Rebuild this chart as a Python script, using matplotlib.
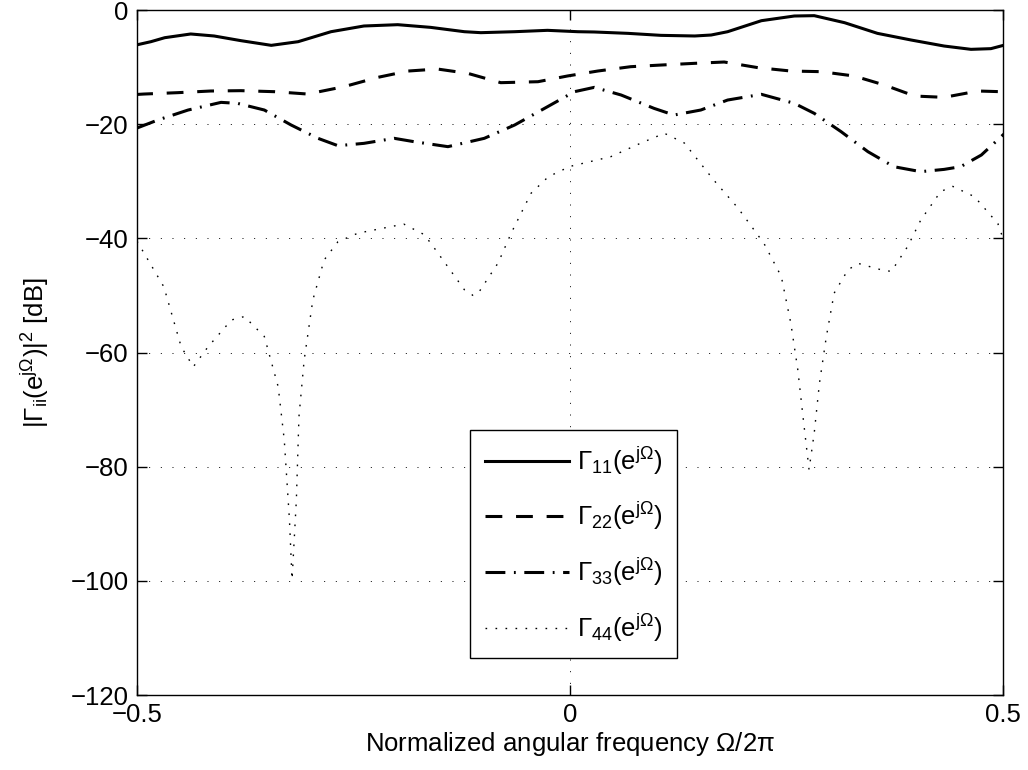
#!/usr/bin/env python3
""" reflection coefficient magnitudes of the four ports over normalized frequency """
import matplotlib
matplotlib.use("Agg")
import matplotlib.pyplot as plt

plt.rcParams['font.family'] = ['Liberation Sans', 'DejaVu Sans']
plt.rcParams['mathtext.fontset'] = 'custom'
plt.rcParams['mathtext.rm'] = 'Liberation Sans'
plt.rcParams['mathtext.it'] = 'Liberation Sans'
plt.rcParams['mathtext.default'] = 'regular'

# |Gamma_11|^2 in dB
x11 = [-0.501, -0.484, -0.468, -0.438, -0.411, -0.380, -0.345, -0.314, -0.276, -0.238,
       -0.199, -0.161, -0.122, -0.103, -0.064, -0.026, 0.009, 0.028, 0.067, 0.105,
       0.144, 0.163, 0.182, 0.221, 0.259, 0.282, 0.317, 0.355, 0.394, 0.432,
       0.463, 0.486, 0.502]
g11 = [-6.13, -5.55, -4.85, -4.20, -4.55, -5.37, -6.19, -5.55, -3.80, -2.80,
       -2.57, -3.04, -3.80, -3.97, -3.80, -3.56, -3.80, -3.85, -4.09, -4.44,
       -4.55, -4.38, -3.80, -1.87, -1.05, -0.99, -2.22, -4.09, -5.26, -6.31,
       -6.89, -6.77, -6.13]

# |Gamma_22|^2 in dB
x22 = [-0.501, -0.492, -0.453, -0.415, -0.380, -0.341, -0.303, -0.261, -0.222, -0.187,
       -0.153, -0.118, -0.080, -0.037, -0.003, 0.032, 0.070, 0.105, 0.144, 0.178,
       0.217, 0.255, 0.290, 0.328, 0.363, 0.398, 0.432, 0.471, 0.498, 0.502]
g22 = [-14.8, -14.72, -14.48, -14.19, -14.13, -14.31, -14.72, -13.43, -11.80, -10.69,
       -10.34, -11.10, -12.73, -12.56, -11.56, -10.69, -9.93, -9.64, -9.34, -9.11,
       -10.10, -10.69, -10.80, -11.56, -13.14, -15.07, -15.30, -14.19, -14.31, -14.3]

# |Gamma_33|^2 in dB
x33 = [-0.501, -0.476, -0.441, -0.403, -0.384, -0.353, -0.322, -0.291, -0.268, -0.238,
       -0.203, -0.180, -0.141, -0.099, -0.064, -0.026, 0.005, 0.028, 0.059, 0.097,
       0.120, 0.151, 0.182, 0.221, 0.259, 0.282, 0.313, 0.344, 0.374, 0.405,
       0.432, 0.451, 0.475, 0.502]
g33 = [-20.73, -19.27, -17.52, -16.18, -16.35, -17.52, -20.15, -22.48, -23.77, -23.36,
       -22.48, -23.07, -23.94, -22.48, -20.15, -16.94, -14.31, -13.55, -14.89, -17.23,
       -18.40, -17.52, -15.77, -14.77, -16.35, -18.10, -21.31, -24.82, -27.45, -28.32,
       -27.92, -27.45, -25.40, -21.6]

# |Gamma_44|^2 in dB
x44 = [-0.5, -0.469, -0.449, -0.435, -0.418, -0.391, -0.376, -0.353, -0.337, -0.330,
       -0.324, -0.321, -0.316, -0.313, -0.307, -0.297, -0.284, -0.268, -0.245, -0.192,
       -0.169, -0.161, -0.122, -0.112, -0.106, -0.083, -0.068, -0.045, -0.025, 0.0,
       0.047, 0.082, 0.109, 0.132, 0.166, 0.194, 0.224, 0.244, 0.255, 0.263,
       0.269, 0.276, 0.282, 0.288, 0.296, 0.305, 0.321, 0.333, 0.359, 0.371,
       0.390, 0.405, 0.428, 0.442, 0.467, 0.494, 0.5]
g44 = [-40.5, -48.5, -59.0, -62.5, -59.0, -54.3, -53.7, -57.2, -66.0, -75.3,
       -89.3, -99.8, -85.8, -71.2, -61.3, -50.8, -43.8, -40.6, -39.1, -37.5,
       -39.3, -40.8, -49.0, -50.0, -49.6, -44.3, -39.1, -32.1, -29.2, -27.4,
       -25.7, -23.3, -21.6, -23.3, -29.8, -34.7, -40.9, -46.7, -54.9, -63.0,
       -71.2, -80.5, -74.1, -65.4, -57.2, -49.6, -45.5, -44.4, -45.5, -45.8,
       -41.4, -36.8, -31.8, -30.9, -32.7, -37.4, -40.0]

labels = [r'$\Gamma_{11}(e^{j\Omega})$', r'$\Gamma_{22}(e^{j\Omega})$',
          r'$\Gamma_{33}(e^{j\Omega})$', r'$\Gamma_{44}(e^{j\Omega})$']

fig = plt.figure(figsize=(10.28, 7.7), dpi=100)
ax = fig.add_axes([0.1333, 0.0974, 0.8424, 0.8896])

ax.plot(x11, g11, color='black', lw=2.2, linestyle='-', label=labels[0])
ax.plot(x22, g22, color='black', lw=2.2, linestyle=(0, (5.5, 4.5)),
        dash_capstyle='butt', label=labels[1])
ax.plot(x33, g33, color='black', lw=2.2, linestyle=(0, (6.5, 2.8, 0.6, 2.8)),
        dash_capstyle='butt', label=labels[2])
ax.plot(x44, g44, color='black', lw=1.0, linestyle=(0, (1.2, 6.0)),
        dash_capstyle='butt', label=labels[3])

ax.set_xlim(-0.5, 0.5)
ax.set_ylim(-120, 0)
ax.set_xticks([-0.5, 0, 0.5])
ax.set_xticklabels(['\u22120.5', '0', '0.5'])
ax.set_yticks(range(-120, 1, 20))
ax.set_yticklabels(['\u2212%d' % abs(v) if v else '0' for v in range(-120, 1, 20)])
ax.tick_params(direction='in', length=7, width=1, labelsize=18.5,
               top=True, right=True, pad=6)
ax.grid(True, color='black', linestyle=(0, (1, 11)), linewidth=0.7)
for sp in ax.spines.values():
    sp.set_linewidth(1.0)

ax.set_xlabel(r'Normalized angular frequency $\Omega$/2$\pi$', fontsize=18.5, labelpad=2)
ax.set_ylabel(r'$|\Gamma_{ii}(e^{j\Omega})|^2$ [dB]', fontsize=18.5, labelpad=14)

leg = ax.legend(loc='lower left', bbox_to_anchor=(0.385, 0.054), borderaxespad=0,
                fontsize=18.5, handlelength=3.3, labelspacing=0.92, handletextpad=0.3,
                borderpad=0.55, fancybox=False, framealpha=1, edgecolor='black')
leg.get_frame().set_linewidth(1.0)

plt.savefig("out.png", dpi=100)
